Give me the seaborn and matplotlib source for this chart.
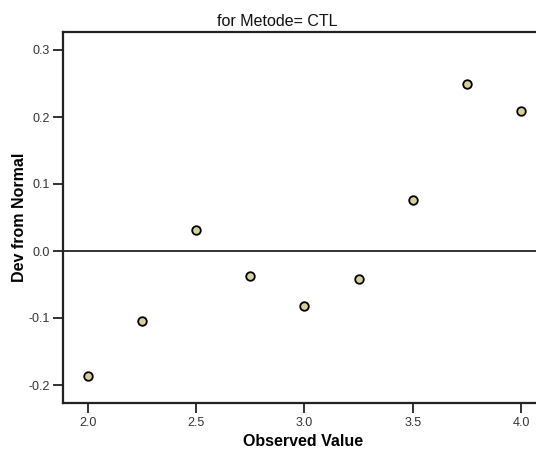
import matplotlib
matplotlib.use("Agg")
import matplotlib.pyplot as plt
import seaborn as sns
import pandas as pd

# Detrended normal Q-Q values for the CTL group
observed = [2.0, 2.25, 2.5, 2.75, 3.0, 3.25, 3.5, 3.75, 4.0]
deviation = [-0.186, -0.104, 0.032, -0.037, -0.082, -0.042, 0.076, 0.249, 0.209]
x_ticks = [2.0, 2.5, 3.0, 3.5, 4.0]
y_ticks = [-0.2, -0.1, 0.0, 0.1, 0.2, 0.3]

df = pd.DataFrame({"Observed Value": observed, "Dev from Normal": deviation})

sns.set_style("white")
plt.rcParams["font.family"] = ["Liberation Sans", "DejaVu Sans"]

fig = plt.figure(figsize=(5.36, 4.55), dpi=100)
ax_w_px = 544 - 63.3
ax_h_px = 403.3 - 31.7
ax = fig.add_axes([63.3 / 536, 1 - 403.3 / 455, ax_w_px / 536, ax_h_px / 455])

ax.axhline(0.0, color="#333333", lw=1.4, zorder=1)
sns.scatterplot(data=df, x="Observed Value", y="Dev from Normal", ax=ax,
                s=38, color="#d8d09c", edgecolor="black", linewidth=1.3,
                zorder=3, clip_on=False)

ax.set_xlim(2.0 - 24.4 / 216.7, 4.0 + 23 / 216.7)
ax.set_ylim(-0.2 - 18.3 / 670, 0.3 + 18.3 / 670)
ax.set_xticks(x_ticks)
ax.set_xticklabels([f"{v:.1f}" for v in x_ticks])
ax.set_yticks(y_ticks)
ax.set_yticklabels([f"{v:.1f}" for v in y_ticks])

for side in ["left", "top", "bottom"]:
    ax.spines[side].set_visible(True)
    ax.spines[side].set_color("#222222")
    ax.spines[side].set_linewidth(1.6)
ax.spines["right"].set_visible(False)

ax.tick_params(axis="both", which="both", direction="out", length=7, width=1.3,
               color="#222222", labelsize=9, labelcolor="#333333", pad=3,
               left=True, bottom=True)

ax.set_xlabel("Observed Value", fontsize=11.5, fontweight="bold", color="black")
ax.set_ylabel("Dev from Normal", fontsize=11.5, fontweight="bold", color="black")
ax.yaxis.set_label_coords(-36 / ax_w_px, 0.5)
ax.xaxis.set_label_coords((303.5 - 63.3) / ax_w_px, -38.7 / ax_h_px)
ax.xaxis.label.set_verticalalignment("center")

fig.text(277 / 536, 1 - 21.7 / 455, "for Metode= CTL", fontsize=11.5,
         ha="center", va="center", color="#111111")

fig.savefig("out.png", dpi=100)
